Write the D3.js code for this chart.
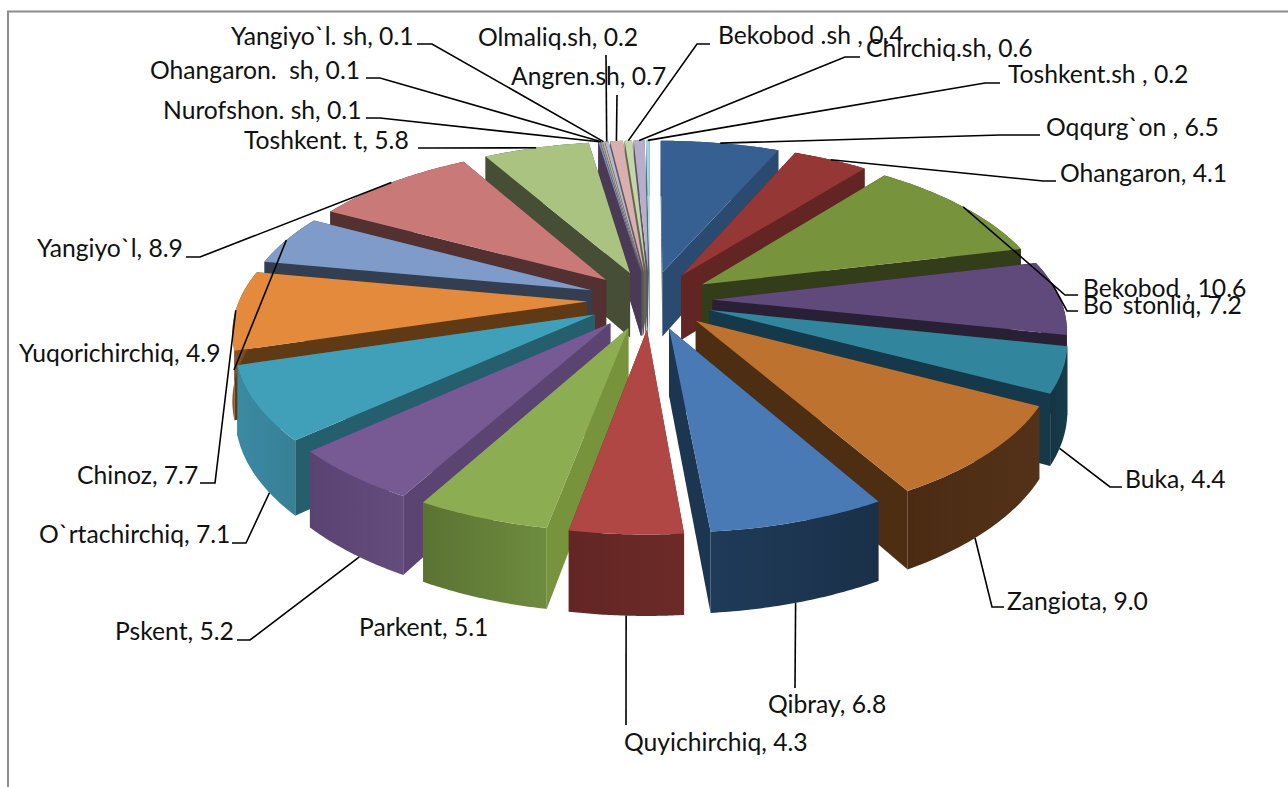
<!DOCTYPE html>
<html><head><meta charset="utf-8">
<script src="https://cdn.jsdelivr.net/npm/d3@7"></script>
<style>html,body{margin:0;background:#fff}svg{display:block}text{font-family:Lato,"Noto Sans",sans-serif;font-size:24.7px;fill:#111;white-space:pre}</style>
</head><body><svg id="c" width="1288" height="787"></svg>
<script>
const names = ["Oqqurg`on ","Ohangaron","Bekobod ","Bo`stonliq","Buka","Zangiota","Qibray","Quyichirchiq","Parkent","Pskent","O`rtachirchiq","Chinoz","Yuqorichirchiq","Yangiyo`l","Toshkent. t","Nurofshon. sh","Ohangaron.  sh","Yangiyo`l. sh","Olmaliq.sh","Angren.sh","Bekobod .sh ","Chirchiq.sh","Toshkent.sh "];
const values = [6.5,4.1,10.6,7.2,4.4,9.0,6.8,4.3,5.1,5.2,7.1,7.7,4.9,8.9,5.8,0.1,0.1,0.1,0.2,0.7,0.4,0.6,0.2];
const topColors = ["#376092","#953735","#77933C","#604A7B","#31859C","#BE7230","#4A7AB5","#B04744","#8DAD52","#775993","#41A0B9","#E38A3C","#7F9BC9","#C97A78","#ABC380","#9580AD","#6BB3C8","#EDAA6C","#A9BBDD","#D9AFAF","#C4D5A7","#B7AECB","#A6D6E3"];
const cutColors = ["#2B4A70","#632524","#333D1A","#2A2036","#15394A","#4E2E13","#1C3550","#672826","#77933C","#5B4472","#255F6E","#5F3A15","#333F50","#533130","#464F35","#4B3A55","#2F5F6E","#7A5030","#4E5A70","#6E5454","#5F6A50","#5A5468","#50707A"];
const wallLeft = ["#2B4A70","#632524","#333D1A","#2A2036","#143440","#4A2B12","#1F3B5A","#632624","#5A7333","#5A4373","#3A8AA3","#8A5526","#333F50","#533130","#464F35","#4B3A55","#2F5F6E","#7A5030","#4E5A70","#6E5454","#5F6A50","#5A5468","#50707A"];
const wallRight = ["#2B4A70","#632524","#333D1A","#2A2036","#173C4D","#54321A","#1A3048","#6B2A28","#6E8C3E","#644C7C","#378095","#6B4018","#333F50","#533130","#464F35","#4B3A55","#2F5F6E","#7A5030","#4E5A70","#6E5454","#5F6A50","#5A5468","#50707A"];
const labelX = [1046,1060,1083,1083,1125,1007,768,624,359,115,39,77,19,37,244,163,150,231,478,511,718,866,1008];
const labelY = [136,182,297,314,488,610,713,751,636,640,543,484,362,257,149,119,79,45,46,85,44,57,83];
const elbows = [
 [[1000,135],[1040,135]],[[1043,181],[1056,181]],[[1065,295],[1078,295]],[[1067,311],[1078,311]],
 [[1110,487],[1122,487]],[[992,607],[1004,607]],[[795,688]],[[626,725]],[],
 [[250,640],[237,640]],[[246,543],[232,543]],[[215,483],[200,483]],[[234,370]],[[200,257],[186,257]],
 [[432,148],[418,148]],[[380,118],[366,118]],[[380,78],[366,78]],[[432,44],[417,44]],[[606,55]],[[617,95]],
 [[697,44],[710,44]],[[845,57],[860,57]],[[985,83],[1000,83]]];
// which face of the slice each leader starts from, and where along the slice (percent of its span)
const leaderOnBottom = [0,0,0,0,1,1,1,1,0,1,1,0,0,0,0,0,0,0,0,0,0,0,0];
const leaderAlong = [.5,.5,.5,.3,.65,.6,.52,.5,.5,.42,.3,.5,.5,.5,.5,.5,.5,.5,.5,.5,.5,.5,.5];

const explode = 0.18, persp = 0.161, depth = 66;
const sx = d3.scaleLinear().domain([-1,1]).range([650-348,650+348]);
const sy = d3.scaleLinear().domain([-1,1]).range([300-161,300+161]);
function project(ang, r, mid, bottom){
  const u = r*Math.sin(ang)+explode*Math.sin(mid);
  const v = -(r*Math.cos(ang)+explode*Math.cos(mid));
  const s = 1/(1-persp*v);
  return [sx(u*s), sy(v*s)+(bottom?depth*s:0)];
}
const svg = d3.select("#c");
const defs = svg.append("defs");
svg.append("path").attr("d",d3.line()([[8,787],[8,11.5],[1288,11.5]])).attr("fill","none").attr("stroke","#8c8c8c").attr("stroke-width",2);

const arcs = d3.pie().sort(null).value(d=>d).startAngle(0).endAngle(2*Math.PI)(values);
const line = d3.line();
const mid = a=>(a.startAngle+a.endAngle)/2;
const order = arcs.map((a,i)=>i).sort((p,q)=>(-Math.cos(mid(arcs[p])))-(-Math.cos(mid(arcs[q]))));
const gPie = svg.append("g");
order.forEach(i=>{
  const a = arcs[i], m = mid(a);
  const angs = d3.range(0,1.0001,1/40).map(t=>a.startAngle+t*(a.endAngle-a.startAngle));
  const topArc = angs.map(t=>project(t,1,m,false));
  const botArc = angs.map(t=>project(t,1,m,true));
  const apexT = project(0,0,m,false), apexB = project(0,0,m,true);
  const id = "w"+i;
  const g = defs.append("linearGradient").attr("id",id);
  g.append("stop").attr("offset",0).attr("stop-color",wallLeft[i]);
  g.append("stop").attr("offset",1).attr("stop-color",wallRight[i]);
  const faces = [
    [apexT,topArc[0],botArc[0],apexB],
    [apexT,topArc[40],botArc[40],apexB]
  ].sort((p,q)=>d3.mean(p,d=>d[1])-d3.mean(q,d=>d[1]));
  faces.forEach(f=>gPie.append("path").attr("d",line(f)+"Z").attr("fill",cutColors[i]));
  gPie.append("path").attr("d",line(topArc.concat(botArc.slice().reverse()))+"Z").attr("fill",`url(#${id})`);
  gPie.append("path").attr("d",line([apexT].concat(topArc))+"Z").attr("fill",topColors[i]);
});
const gLead = svg.append("g");
arcs.forEach((a,i)=>{
  if(!elbows[i].length) return;
  const t = a.startAngle+leaderAlong[i]*(a.endAngle-a.startAngle);
  gLead.append("path").attr("d",line([project(t,1,mid(a),!!leaderOnBottom[i])].concat(elbows[i])))
    .attr("fill","none").attr("stroke","#000").attr("stroke-width",1.6);
});
svg.append("g").selectAll("text").data(names).join("text")
  .attr("x",(d,i)=>labelX[i]).attr("y",(d,i)=>labelY[i])
  .text((d,i)=>d+", "+values[i].toFixed(1));
</script></body></html>
